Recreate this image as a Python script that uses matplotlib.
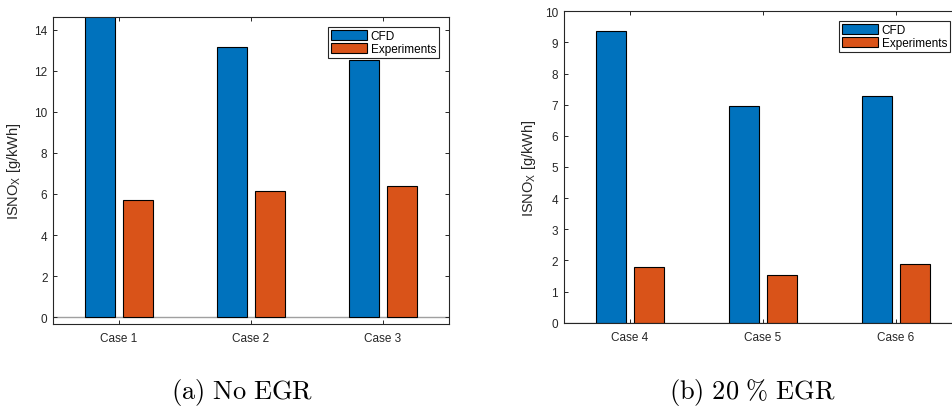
import matplotlib
matplotlib.use("Agg")
import matplotlib.pyplot as plt
import numpy as np

plt.rcParams['font.family'] = ['Liberation Sans', 'DejaVu Sans']
plt.rcParams['mathtext.fontset'] = 'custom'
plt.rcParams['mathtext.rm'] = 'Liberation Sans'
plt.rcParams['mathtext.it'] = 'Liberation Sans'

# Data
cases_a = ["Case 1", "Case 2", "Case 3"]
cfd_a = [14.7, 13.17, 12.55]
exp_a = [5.69, 6.15, 6.38]

cases_b = ["Case 4", "Case 5", "Case 6"]
cfd_b = [9.38, 6.97, 7.29]
exp_b = [1.80, 1.54, 1.88]

series_names = ["CFD", "Experiments"]
ylabel = r"ISNO$_\mathrm{X}$ [g/kWh]"

BLUE = "#0072BD"
ORANGE = "#D95319"
AXC = "#262626"

fig = plt.figure(figsize=(9.52, 4.10), dpi=100)

def draw(ax, cases, cfd, exp, ylim, yticks, leg_anchor):
    x = np.arange(1, len(cases) + 1)
    w = 0.227
    off = 0.143
    ax.bar(x - off, cfd, w, color=BLUE, edgecolor="black", linewidth=0.8,
           label=series_names[0], zorder=2)
    ax.bar(x + off, exp, w, color=ORANGE, edgecolor="black", linewidth=0.8,
           label=series_names[1], zorder=2)
    ax.axhline(0, color="#a0a0a0", linewidth=1.0, zorder=1)
    ax.set_xlim(0.5, len(cases) + 0.5)
    ax.set_ylim(*ylim)
    ax.set_yticks(yticks)
    ax.set_xticks(x)
    ax.set_xticklabels(cases)
    ax.tick_params(direction="in", length=3, width=0.7, colors=AXC,
                   labelsize=8.5, top=True, right=True, pad=4)
    ax.tick_params(axis="x", pad=6)
    for s in ax.spines.values():
        s.set_color(AXC)
        s.set_linewidth(0.8)
    ax.set_ylabel(ylabel, fontsize=10.5, color=AXC)
    leg = ax.legend(loc="upper right", bbox_to_anchor=leg_anchor,
                    borderaxespad=0, fontsize=8.5, fancybox=False,
                    handlelength=3.1, handleheight=0.9, handletextpad=0.3,
                    labelspacing=0.1, borderpad=0.25, framealpha=1)
    leg.get_frame().set_edgecolor(AXC)
    leg.get_frame().set_linewidth(0.8)
    for t in leg.get_texts():
        t.set_color("black")

ax1 = fig.add_axes([0.0557, 0.2073, 0.416, 0.7488])
draw(ax1, cases_a, cfd_a, exp_a, (-0.34, 14.63), np.arange(0, 15, 2), (0.975, 0.968))
ax1.yaxis.set_label_coords(-0.076, 0.5)

ax2 = fig.add_axes([0.5921, 0.2105, 0.4184, 0.7595])
draw(ax2, cases_b, cfd_b, exp_b, (0, 10), np.arange(0, 11, 1), (0.970, 0.969))
ax2.yaxis.set_label_coords(-0.064, 0.5)

fig.text(242.5 / 952, 1 - 393 / 410, r"$\mathrm{(a)\ No\ EGR}$", ha="center", va="center", fontsize=19,
         math_fontfamily="cm")
fig.text(752 / 952, 1 - 393 / 410, r"$\mathrm{(b)\ 20\ \%\ EGR}$", ha="center", va="center", fontsize=19,
         math_fontfamily="cm")

fig.savefig("out.png", dpi=100)
